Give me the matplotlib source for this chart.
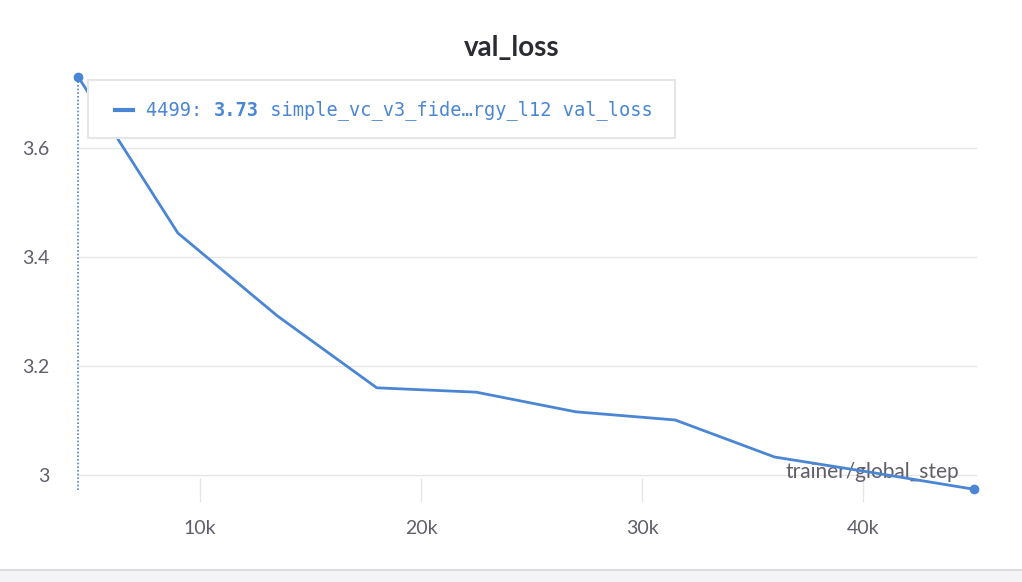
import numpy as np
import matplotlib.pyplot as plt
from matplotlib.patches import Rectangle
from matplotlib.lines import Line2D

# data
steps = [4499, 8999, 13499, 17999, 22499, 26999, 31499, 35999, 40499, 44999]
val_loss = [3.73, 3.444, 3.292, 3.160, 3.152, 3.116, 3.101, 3.033, 3.004, 2.974]
yticks = [3.0, 3.2, 3.4, 3.6]
ytick_labels = ['3', '3.2', '3.4', '3.6']
xticks = [10000, 20000, 30000, 40000]
xtick_labels = ['10k', '20k', '30k', '40k']

blue = '#4a86d4'
gray_text = '#5f5e6a'
grid_c = '#e6e6e6'

W, H = 1022, 582
fig = plt.figure(figsize=(W / 100, H / 100), dpi=100)
plt.rcParams['font.family'] = ['Lato', 'DejaVu Sans']

# axes placed in pixel terms
x0, x1 = 78.4, 973.5
y_top, y_bot = 77, 490
ax = fig.add_axes([x0 / W, 1 - y_bot / H, (x1 - x0) / W, (y_bot - y_top) / H])
ax.set_xlim(4499, 44999)
ax.set_ylim(2.9725, 3.7303)

for s in ax.spines.values():
    s.set_visible(False)

for yv in yticks:
    ax.plot([4499, 45100], [yv, yv], color=grid_c, lw=1, zorder=1, clip_on=False)

ax.set_yticks(yticks)
ax.set_yticklabels(ytick_labels)
ax.set_xticks(xticks)
ax.set_xticklabels(xtick_labels)
ax.tick_params(axis='y', length=0, pad=21, labelsize=14, labelcolor=gray_text)
ax.tick_params(axis='x', direction='inout', length=17, width=1, color=grid_c,
               pad=13, labelsize=14, labelcolor=gray_text)

# hover line
ax.plot([steps[0], steps[0]], [2.9725, val_loss[0]], color=blue, lw=1.2,
        ls=(0, (1, 1.2)), zorder=2, clip_on=False)

ax.text(40400, 2.995, 'trainer/global_step', ha='center', va='baseline',
        fontsize=15, color=gray_text, zorder=2)

ax.plot(steps, val_loss, color=blue, lw=2, zorder=3, clip_on=False)
ax.plot([steps[0], steps[-1]], [val_loss[0], val_loss[-1]], 'o', color=blue,
        ms=6, zorder=4, clip_on=False)

# legend box (pixel coords)
def px(x, y):
    return x / W, 1 - y / H

lx, ly = px(88, 138)
fig.patches.append(Rectangle((lx, ly), (675 - 88) / W, (138 - 80) / H,
                             transform=fig.transFigure, facecolor='white',
                             edgecolor=grid_c, lw=1.5, zorder=5))
fig.lines.append(Line2D([115 / W, 133 / W], [1 - 110 / H] * 2, color=blue,
                        lw=3, transform=fig.transFigure, zorder=6))
mono = 'DejaVu Sans Mono'
fs = 13.4
t1 = fig.text(146 / W, 1 - 110 / H, '4499: ', family=mono, fontsize=fs,
              color=blue, va='center', zorder=6)
fig.canvas.draw()
r = fig.canvas.get_renderer()
bb = t1.get_window_extent(r)
t2 = fig.text(bb.x1 / W, 1 - 110 / H, '3.73', family=mono, fontsize=fs,
              color=blue, va='center', weight='bold', zorder=6)
bb = t2.get_window_extent(r)
fig.text(bb.x1 / W, 1 - 110 / H, ' simple_vc_v3_fide…rgy_l12 val_loss',
         family=mono, fontsize=fs, color=blue, va='center', zorder=6)

fig.text(512 / W, 1 - 48 / H, 'val_loss', ha='center', va='center',
         fontsize=20, weight='bold', color='#2b2b33')

# bottom bar
fig.patches.append(Rectangle((0, 0), 1, 12 / H, transform=fig.transFigure,
                             facecolor='#f4f4f6', edgecolor='none'))
fig.lines.append(Line2D([0, 1], [12 / H] * 2, color='#dcdcdc', lw=1.5,
                        transform=fig.transFigure))

fig.savefig('out.png', dpi=100)
